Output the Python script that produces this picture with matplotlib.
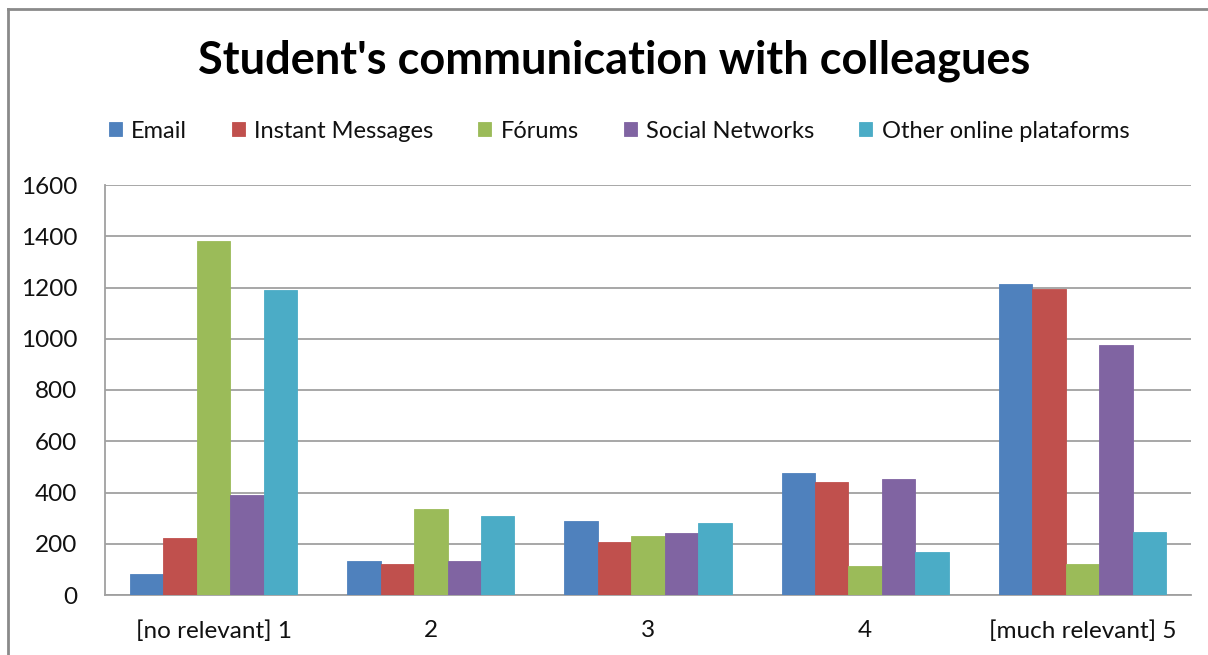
import matplotlib
matplotlib.use("Agg")
import matplotlib.pyplot as plt
from matplotlib.lines import Line2D
import numpy as np

plt.rcParams['font.family'] = ['Lato', 'DejaVu Sans']

categories = ["[no relevant] 1", "2", "3", "4", "[much relevant] 5"]
series_names = ["Email", "Instant Messages", "Fórums", "Social Networks", "Other online plataforms"]
email = [82, 133, 287, 477, 1215]
instant_messages = [222, 121, 208, 442, 1196]
forums = [1381, 337, 231, 112, 120]
social_networks = [391, 133, 242, 452, 974]
other_platforms = [1191, 307, 282, 168, 245]
yticks = [0, 200, 400, 600, 800, 1000, 1200, 1400, 1600]

colors = ["#4F81BD", "#C0504D", "#9BBB59", "#8064A2", "#4BACC6"]
all_series = [email, instant_messages, forums, social_networks, other_platforms]

W, H = 1208, 655
fig = plt.figure(figsize=(W / 100, H / 100), dpi=100)
ax = fig.add_axes([105 / W, 1 - 595 / H, (1191 - 105) / W, (595 - 185) / H])

x = np.arange(len(categories))
bw = 1 / 6.5
for i, (vals, name, c) in enumerate(zip(all_series, series_names, colors)):
    ax.bar(x + (i - 2) * bw, vals, width=bw, color=c, label=name,
           edgecolor=c, linewidth=0.6, zorder=3)

ax.set_xlim(-0.5, len(categories) - 0.5)
ax.set_ylim(0, 1600)
ax.set_yticks(yticks)
ax.set_yticklabels([str(v) for v in yticks])
ax.set_xticks(x)
ax.set_xticklabels(categories)
ax.tick_params(axis='both', length=0, labelsize=17.5, colors='#111111')
ax.tick_params(axis='y', pad=20)
ax.tick_params(axis='x', pad=18)
ax.grid(axis='y', color='#a0a0a0', linewidth=1.3, zorder=0)
ax.set_axisbelow(True)
for s in ['top', 'right']:
    ax.spines[s].set_visible(False)
for s in ['left', 'bottom']:
    ax.spines[s].set_color('#a0a0a0')
    ax.spines[s].set_linewidth(1.3)

fig.text(614 / W, 1 - 61 / H, "Student's communication with colleagues",
         ha='center', va='center', fontsize=32.5, fontweight='bold', color='black')

leg = ax.legend(loc='center', bbox_to_anchor=(619 / W, 1 - 131 / H),
                bbox_transform=fig.transFigure, ncol=5, frameon=False,
                fontsize=17, handlelength=0.55, handleheight=0.55,
                handletextpad=0.4, columnspacing=1.9, borderaxespad=0)
for t in leg.get_texts():
    t.set_color('#111111')

fig.add_artist(Line2D([8 / W, 1.0], [1 - 9 / H, 1 - 9 / H], transform=fig.transFigure,
                      color='#8a8a8a', linewidth=2))
fig.add_artist(Line2D([8 / W, 8 / W], [0, 1 - 9 / H], transform=fig.transFigure,
                      color='#8a8a8a', linewidth=2))

fig.savefig("out.png", dpi=100, facecolor='white')
